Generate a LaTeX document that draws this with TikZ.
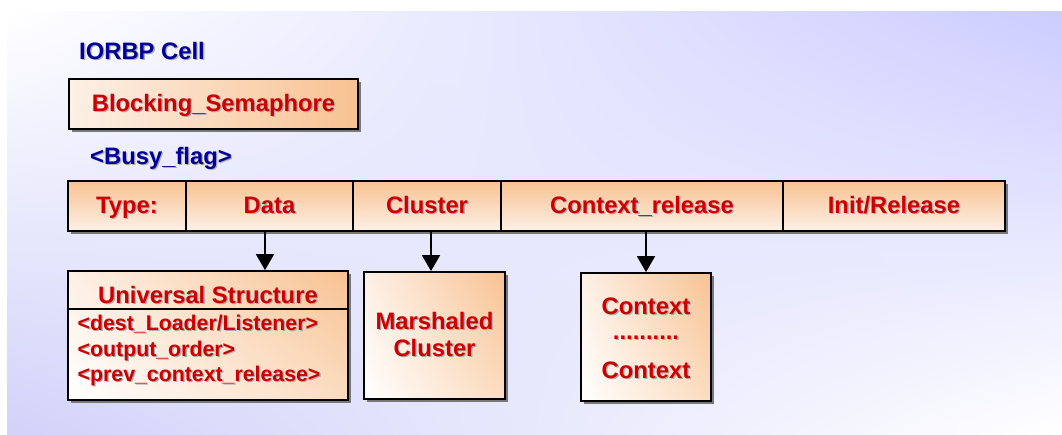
\documentclass[tikz,border=0pt]{standalone}
\usepackage{fontspec}
\setmainfont{Liberation Sans}
\usetikzlibrary{arrows.meta,shadows,shadings}

\definecolor{navy}{RGB}{0,0,153}
\definecolor{redtxt}{RGB}{204,0,0}
\definecolor{peach}{RGB}{248,194,146}
\definecolor{peachmid}{RGB}{251,220,192}
\definecolor{peachlight}{RGB}{253,240,230}
\definecolor{lavtop}{RGB}{204,204,255}
\definecolor{lavleft}{RGB}{210,210,250}
\definecolor{shadowgray}{RGB}{120,120,120}
\definecolor{txtshadow}{RGB}{175,170,175}

% text with a soft drop shadow to the lower right
\newcommand\shtxt[1]{\leavevmode\rlap{\kern1.3pt\raisebox{-1.3pt}{\textcolor{txtshadow}{#1}}}#1}

\tikzset{
  heading/.style={inner sep=0pt, text=navy, font=\bfseries\fontsize{23.8}{26}\selectfont},
  boxshadow/.style={drop shadow={shadow xshift=3pt, shadow yshift=-3pt, fill=shadowgray, opacity=1}},
  cell/.style={draw=black, line width=1.8pt, top color=peach, bottom color=peachlight,
    minimum height=50pt, inner sep=0pt, text height=18pt, text depth=4pt,
    text=redtxt, font=\bfseries\fontsize{23.8}{26}\selectfont, boxshadow},
  topbox/.style={cell, left color=peachlight, right color=peach},
  lowbox/.style={draw=black, line width=1.8pt, inner sep=0pt, boxshadow,
    upper right=peach, lower left=white, upper left=peachlight, lower right=peachmid},
  redtext/.style={inner sep=0pt, text=redtxt, font=\bfseries\fontsize{23.8}{27.5}\selectfont},
  listtext/.style={inner sep=0pt, text=redtxt, align=left, font=\bfseries\fontsize{21.3}{25.5}\selectfont},
  arr/.style={line width=1.8pt, -{Triangle[width=18pt,length=16pt]}}
}

\begin{document}
\begin{tikzpicture}[x=1pt,y=-1pt]
\useasboundingbox (0,0) rectangle (1062,434);
% slide background
\shade[upper left=white, upper right=lavtop, lower left=lavleft, lower right=white]
  (7,11) rectangle (1062,434);

% headings
\node[heading, anchor=base west] (cellname) at (79,59) {\shtxt{IORBP Cell}};
\node[topbox, minimum width=289pt] (bs) at (213.5,104) {\shtxt{Blocking\_Semaphore}};
\node[heading, anchor=base west] (busy) at (90,164) {\shtxt{<Busy\_flag>}};

% type row
\node[cell, minimum width=118pt] (type)    at (127,206)   {\shtxt{Type:}};
\node[cell, minimum width=167pt] (data)    at (269.5,206) {\shtxt{Data}};
\node[cell, minimum width=148pt] (cluster) at (427,206)   {\shtxt{Cluster}};
\node[cell, minimum width=282pt] (ctxrel)  at (642,206)   {\shtxt{Context\_release}};
\node[cell, minimum width=222pt] (init)    at (894,206)   {\shtxt{Init/Release}};

% referenced structures
\node[lowbox, minimum width=280pt, minimum height=129pt] (us) at (208,335.5) {};
\draw[line width=1.8pt] (us.west |- 0,309) -- (us.east |- 0,309);
\node[redtext, anchor=base] (ustitle) at (208,303) {\shtxt{Universal Structure}};
\node[listtext, anchor=north west] (uslist) at (77.5,315)
  {\shtxt{<dest\_Loader/Listener>}\\\shtxt{<output\_order>}\\\shtxt{<prev\_context\_release>}};

\node[lowbox, minimum width=141pt, minimum height=127pt] (mc) at (434.5,335.5) {};
\node[redtext, align=center] (mctext) at (434.5,335) {\shtxt{Marshaled}\\\shtxt{Cluster}};

\node[lowbox, minimum width=130pt, minimum height=128pt] (ctx) at (646,337) {};
\node[redtext, align=center, font=\bfseries\fontsize{23.8}{25}\selectfont] (ctxtext) at (646,339)
  {\shtxt{Context}\\\shtxt{..........}\\[14pt]\shtxt{Context}};

% connectors
\draw[arr] ([xshift=-4.5pt]data.south) -- ([xshift=-4.5pt]data.south |- us.north);
\draw[arr] ([xshift=4pt]cluster.south) -- ([xshift=4pt]cluster.south |- mc.north);
\draw[arr] ([xshift=4pt]ctxrel.south) -- (ctx.north);
\end{tikzpicture}
\end{document}
